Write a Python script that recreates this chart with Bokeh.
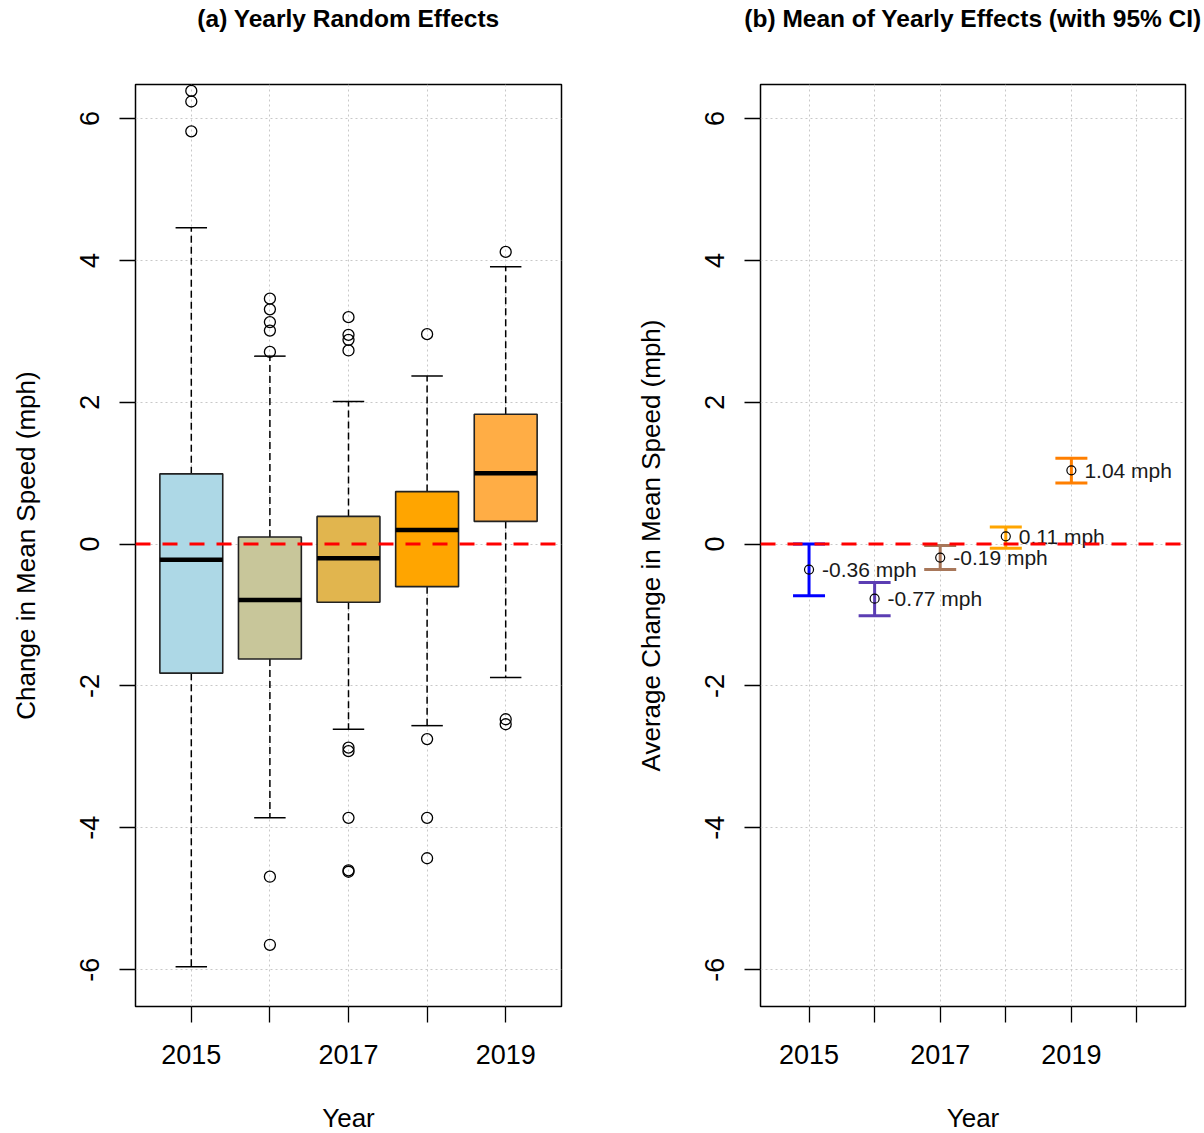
import numpy as np
from bokeh.plotting import figure
from bokeh.layouts import row
from bokeh.models import (FixedTicker, Span, ColumnDataSource, Whisker, TeeHead,
                          Range1d, Title)
from bokeh.core.properties import value
from bokeh.embed import file_html
from bokeh.resources import INLINE

# ---------------- data ----------------
years = ["2015", "2016", "2017", "2018", "2019"]
box_colors = ["#ADD8E6", "#C8C69A", "#E1B54E", "#FFA500", "#FFAD45"]
q1 = [-1.82, -1.62, -0.82, -0.60, 0.32]
med = [-0.22, -0.79, -0.20, 0.20, 1.00]
q3 = [0.99, 0.10, 0.39, 0.74, 1.83]
whisk_lo = [-5.96, -3.86, -2.61, -2.56, -1.88]
whisk_hi = [4.46, 2.65, 2.01, 2.37, 3.91]
out_2015 = [6.39, 6.24, 5.82]
out_2016 = [3.46, 3.31, 3.13, 3.01, 2.71, -4.69, -5.65]
out_2017 = [3.20, 2.95, 2.88, 2.73, -2.87, -2.92, -3.86, -4.60, -4.62]
out_2018 = [2.96, -2.75, -3.86, -4.43]
out_2019 = [4.12, -2.47, -2.54]

mean_years = [2015, 2016, 2017, 2018, 2019]
mean_eff = [-0.36, -0.77, -0.19, 0.11, 1.04]
ci_lo = [-0.73, -1.01, -0.36, -0.06, 0.86]
ci_hi = [0.00, -0.54, -0.02, 0.24, 1.21]
ci_colors = ["#0000FF", "#5B3DB3", "#A8775A", "#FFA500", "#FF7F00"]

y_ticks = [-6, -4, -2, 0, 2, 4, 6]
FONT = "Liberation Sans"


def style(p, xlabel, ylabel, title):
    # spacer between frame and title, then the title itself
    p.add_layout(Title(text=" ", text_font_size="10px", standoff=40), "above")
    p.add_layout(Title(text=title, text_font=FONT, text_font_size="24.5px",
                       text_font_style="bold", text_color="black",
                       align="center", standoff=0), "above")
    p.outline_line_color = "black"
    p.outline_line_width = 1.5
    p.outline_line_alpha = 1.0
    p.background_fill_color = "white"
    p.border_fill_color = "white"
    for ax in (p.xaxis[0], p.yaxis[0]):
        ax.axis_line_color = None
        ax.major_tick_in = 0
        ax.major_tick_out = 16
        ax.major_tick_line_color = "black"
        ax.major_tick_line_width = 1.3
        ax.minor_tick_line_color = None
        ax.major_label_text_font = FONT
        ax.major_label_text_font_size = "27px"
        ax.major_label_text_color = "black"
        ax.axis_label_text_font = FONT
        ax.axis_label_text_font_size = "26px"
        ax.axis_label_text_font_style = "normal"
        ax.axis_label_text_color = "black"
    p.xaxis.axis_label = xlabel
    p.yaxis.axis_label = ylabel
    p.xaxis.major_label_standoff = 22
    p.xaxis.axis_label_standoff = 36
    p.yaxis.major_label_standoff = 20
    p.yaxis.axis_label_standoff = 37
    p.yaxis.ticker = FixedTicker(ticks=y_ticks)
    p.yaxis.major_label_orientation = "vertical"
    p.yaxis.major_label_overrides = {t: str(t) for t in y_ticks}
    for g in (p.xgrid[0], p.ygrid[0]):
        g.grid_line_color = "#C8C8C8"
        g.grid_line_dash = "2 3"
        g.grid_line_width = 1
    zero = Span(location=0, dimension="width", line_color="red",
                line_width=3, line_dash="15 12")
    p.add_layout(zero)


# ---------------- panel (a) ----------------
xpos = np.arange(1, len(years) + 1)
p1 = figure(frame_width=426, frame_height=922,
            min_border_left=135, min_border_right=39,
            min_border_top=84, min_border_bottom=127,
            x_range=Range1d(0.29, 5.71), y_range=Range1d(-6.52, 6.48),
            output_backend="svg", toolbar_location=None)
style(p1, "Year", "Change in Mean Speed (mph)", "(a) Yearly Random Effects")
p1.xaxis.ticker = FixedTicker(ticks=list(xpos))
p1.xaxis.major_label_overrides = {int(x): (y if i % 2 == 0 else "")
                                  for i, (x, y) in enumerate(zip(xpos, years))}

src = ColumnDataSource(dict(x=xpos, q1=q1, q3=q3, med=med, lo=whisk_lo,
                            hi=whisk_hi, color=box_colors,
                            xl=xpos - 0.4, xr=xpos + 0.4,
                            sl=xpos - 0.2, sr=xpos + 0.2))
p1.segment(x0="x", x1="x", y0="q3", y1="hi", source=src, line_color="black",
           line_width=1.5, line_dash="7 4")
p1.segment(x0="x", x1="x", y0="q1", y1="lo", source=src, line_color="black",
           line_width=1.5, line_dash="7 4")
p1.segment(x0="sl", x1="sr", y0="hi", y1="hi", source=src, line_color="black",
           line_width=1.5)
p1.segment(x0="sl", x1="sr", y0="lo", y1="lo", source=src, line_color="black",
           line_width=1.5)
p1.vbar(x="x", width=0.8, bottom="q1", top="q3", source=src,
        fill_color="color", line_color="#222222", line_width=1.6)
p1.segment(x0="xl", x1="xr", y0="med", y1="med", source=src,
           line_color="black", line_width=4.5)

all_out = [out_2015, out_2016, out_2017, out_2018, out_2019]
ox, oy = [], []
for x, vals in zip(xpos, all_out):
    ox += [x] * len(vals)
    oy += vals
p1.scatter(ox, oy, marker="circle", size=11, fill_color=None,
           line_color="black", line_width=1.3)

# ---------------- panel (b) ----------------
p2 = figure(frame_width=425, frame_height=922,
            min_border_left=160, min_border_right=19,
            min_border_top=84, min_border_bottom=127,
            x_range=Range1d(2014.26, 2020.74), y_range=Range1d(-6.52, 6.48),
            output_backend="svg", toolbar_location=None)
style(p2, "Year", "Average Change in Mean Speed (mph)",
      "(b) Mean of Yearly Effects (with 95% CI)")
xt = list(range(2015, 2021))
p2.xaxis.ticker = FixedTicker(ticks=xt)
p2.xaxis.major_label_overrides = {t: (str(t) if t % 2 == 1 else "") for t in xt}

src2 = ColumnDataSource(dict(x=mean_years, m=mean_eff, lo=ci_lo, hi=ci_hi,
                             color=ci_colors,
                             lab=[f"{v:.2f} mph" for v in mean_eff]))
w = Whisker(base="x", upper="hi", lower="lo", source=src2, dimension="height",
            line_color="color", line_width=3,
            upper_head=TeeHead(size=32, line_color="color", line_width=3),
            lower_head=TeeHead(size=32, line_color="color", line_width=3))
p2.add_layout(w)
p2.scatter(x="x", y="m", source=src2, marker="circle", size=9,
           fill_color=None, line_color="black", line_width=1.2)
p2.text(x="x", y="m", text="lab", source=src2, x_offset=13,
        text_align="left", text_baseline="middle", text_color="#1a1a1a",
        text_font=value(FONT), text_font_size="21px")

layout = row(p1, p2)
open("out.html", "w").write(file_html(layout, INLINE))
